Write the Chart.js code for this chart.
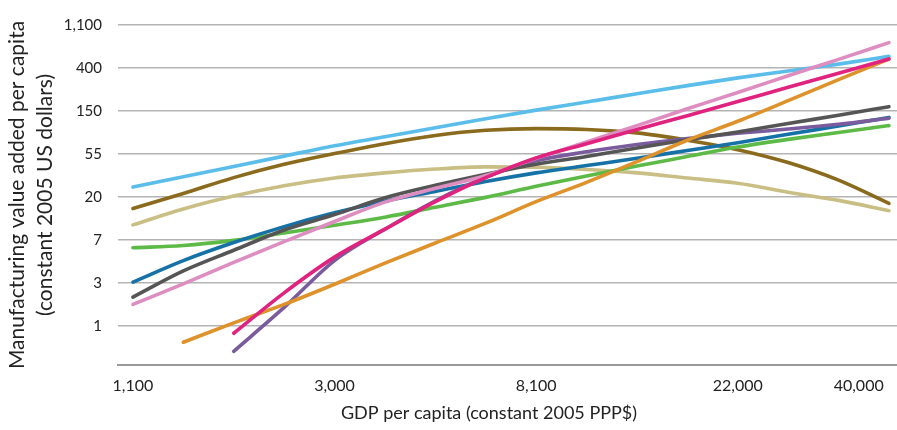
<!DOCTYPE html>
<html>
<head>
<meta charset="utf-8">
<script src="https://cdn.jsdelivr.net/npm/chart.js@4/dist/chart.umd.min.js"></script>
<style>
  html, body { margin: 0; padding: 0; background: #fff; }
  #wrap { width: 897px; height: 430px; position: relative; }
</style>
</head>
<body>
<div id="wrap"><canvas id="grafico"></canvas></div>
<script>
// both axes are natural logs, tick labels show the rounded exp value
const gdpLn = [7.00, 7.25, 7.50, 7.75, 8.00, 8.25, 8.50, 8.75, 9.00, 9.25, 9.50, 9.75, 10.00, 10.25, 10.50, 10.75]

const xTickValues = [7, 8, 9, 10, 10.6]
const xTickLabels = ['1,100', '3,000', '8,100', '22,000', '40,000']
const yTickValues = [0, 1, 2, 3, 4, 5, 6, 7]
const yTickLabels = ['1', '3', '7', '20', '55', '150', '400', '1,100']

const lightBlue = [3.23, 3.47, 3.71, 3.95, 4.19, 4.40, 4.61, 4.82, 5.02, 5.21, 5.40, 5.59, 5.77, 5.93, 6.09, 6.27]
const brown     = [2.73, 3.08, 3.45, 3.76, 4.01, 4.24, 4.43, 4.55, 4.59, 4.57, 4.49, 4.32, 4.10, 3.80, 3.39, 2.85]
const khaki     = [2.35, 2.72, 3.02, 3.26, 3.44, 3.56, 3.65, 3.70, 3.69, 3.64, 3.56, 3.44, 3.32, 3.11, 2.92, 2.68]
const green     = [1.82, 1.87, 1.99, 2.16, 2.34, 2.53, 2.76, 2.99, 3.25, 3.49, 3.72, 3.94, 4.16, 4.34, 4.50, 4.66]
const blue      = [1.02, 1.52, 1.94, 2.31, 2.63, 2.90, 3.13, 3.36, 3.56, 3.73, 3.90, 4.08, 4.26, 4.46, 4.65, 4.85]
const gray      = [0.67, 1.28, 1.76, 2.23, 2.59, 2.98, 3.27, 3.53, 3.76, 3.94, 4.14, 4.33, 4.51, 4.71, 4.90, 5.10]
const pink      = [0.50, 0.98, 1.48, 1.96, 2.43, 2.88, 3.20, 3.50, 3.90, 4.28, 4.66, 5.05, 5.43, 5.82, 6.20, 6.59]
const magenta   = [null, null, -0.17, 0.77, 1.60, 2.25, 2.89, 3.45, 3.91, 4.24, 4.57, 4.89, 5.22, 5.55, 5.88, 6.21]
const purple    = [null, null, -0.59, 0.43, 1.52, 2.25, 2.91, 3.46, 3.84, 4.05, 4.22, 4.36, 4.48, 4.58, 4.69, 4.83]
const orange    = [null, -0.38, 0.07, 0.50, 0.97, 1.46, 1.93, 2.39, 2.89, 3.34, 3.82, 4.32, 4.76, 5.24, 5.73, 6.21]

const xTitle = 'GDP per capita (constant 2005 PPP$)'
const yTitle = ['Manufacturing value added per capita', '(constant 2005 US dollars)']

const serie = (valores, color) => ({
    data: gdpLn.map((x, i) => ({ x: x, y: valores[i] })).filter(p => p.y !== null),
    borderColor: color,
    backgroundColor: color,
    borderWidth: 3.6,
    borderCapStyle: 'round',
    pointRadius: 0,
    cubicInterpolationMode: 'monotone',
    fill: false
})

// x title is left of the plot centre in the reference, so it is drawn here
const tituloX = {
    id: 'tituloX',
    afterDraw: (chart) => {
        const ctx = chart.ctx
        ctx.save()
        ctx.font = '18px Lato'
        ctx.fillStyle = '#222'
        ctx.textAlign = 'center'
        ctx.textBaseline = 'middle'
        ctx.fillText(xTitle, 489, 413)
        ctx.restore()
    }
}

const ctx = document.getElementById('grafico').getContext('2d')

new Chart(ctx, {
    type: 'line',
    data: {
        datasets: [
            serie(magenta, '#E0237F'),
            serie(orange, '#DE922B'),
            serie(pink, '#DE8DC0'),
            serie(lightBlue, '#5ABDEA'),
            serie(gray, '#555555'),
            serie(purple, '#7A5C9E'),
            serie(blue, '#1672A6'),
            serie(green, '#5DBA47'),
            serie(brown, '#8A6A1C'),
            serie(khaki, '#C9BF85')
        ]
    },
    options: {
        responsive: true,
        maintainAspectRatio: false,
        animation: false,
        layout: { padding: { top: 17, right: 0, left: 0, bottom: 0 } },
        plugins: { legend: { display: false }, tooltip: { enabled: false } },
        scales: {
            x: {
                type: 'linear',
                min: 6.926,
                max: 10.79,
                afterFit: (scale) => { scale.height = 65 },
                afterBuildTicks: (scale) => { scale.ticks = xTickValues.map(v => ({ value: v })) },
                grid: { display: false, drawTicks: false },
                border: { display: true, color: '#999999', width: 2 },
                ticks: {
                    padding: 11,
                    color: '#222',
                    font: { family: 'Lato', size: 16 },
                    maxRotation: 0,
                    callback: (v, i) => xTickLabels[i]
                }
            },
            y: {
                type: 'linear',
                min: -0.909,
                max: 7,
                afterFit: (scale) => { scale.width = 118 },
                afterBuildTicks: (scale) => { scale.ticks = yTickValues.map(v => ({ value: v })) },
                grid: { color: '#B4B4B4', lineWidth: 1.6, drawTicks: false },
                border: { display: false },
                ticks: {
                    padding: 16,
                    color: '#222',
                    font: { family: 'Lato', size: 15 },
                    callback: (v, i) => yTickLabels[i]
                },
                title: {
                    display: true,
                    text: yTitle,
                    color: '#222',
                    font: { family: 'Lato', size: 21, lineHeight: 1.3 },
                    padding: { top: 4, bottom: 0 }
                }
            }
        }
    },
    plugins: [tituloX]
})
</script>
</body>
</html>
